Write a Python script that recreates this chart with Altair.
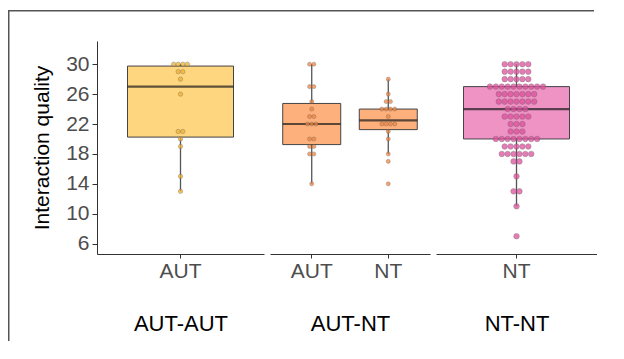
import altair as alt
import pandas as pd

# ---- data ----
aut_aut_AUT = [30, 30, 30, 30, 29, 29, 28, 26, 21, 21, 20, 19, 15, 13]
aut_nt_AUT = [30, 30, 27, 27, 25, 24, 23, 23, 22, 22, 22, 20, 20, 19, 19, 18, 18, 14]
aut_nt_NT = [28, 26, 25, 25, 24, 24, 24, 24, 23, 22, 22, 22, 22, 21, 20, 18, 17, 14]
nt_nt_NT = [30, 30, 30, 30, 30, 29, 29, 29, 29, 29, 28, 28, 28, 28, 28,
            27, 27, 27, 27, 27, 27, 27, 27, 27, 27,
            26, 26, 26, 26, 26, 26, 26, 25, 25, 25, 25, 25, 25, 25,
            24, 24, 24, 24, 23, 23, 23, 23, 23, 22, 22, 22, 21, 21, 21,
            20, 20, 20, 20, 20, 20, 20, 20, 19, 19, 19, 19, 19,
            18, 18, 18, 18, 18, 18, 17, 17, 15, 13, 13, 11, 7]

groups = ["AUT-AUT", "AUT-NT", "NT-NT"]
y_ticks = [6, 10, 14, 18, 22, 26, 30]
y_domain = [4.62, 33.1]

box_fills = ["#FED680", "#FDB07C", "#EF93C5"]
dot_fills = ["#F3B12C", "#F5843C", "#DF4F9D"]

FONT = "Liberation Sans"


def dot_frame(series, spread):
    # dot-plot stacking: dots sharing a value are spread side by side around the category
    rows = []
    for i, (cat, vals) in enumerate(series):
        counts = {}
        for v in vals:
            counts[v] = counts.get(v, 0) + 1
        seen = {}
        for v in vals:
            k = seen.get(v, 0)
            seen[v] = k + 1
            off = k - (counts[v] - 1) / 2
            rows.append({"cat": cat, "q": v, "pos": i + off * spread})
    return pd.DataFrame(rows)


def panel(series, title, width, box_size, dot_d, pad_outer, box_fill, dot_fill, first):
    cats = [c for c, _ in series]
    n = len(cats)
    bw = width / (n + 2 * pad_outer)
    df = dot_frame(series, dot_d / bw)
    xscale = alt.Scale(domain=cats, paddingInner=0, paddingOuter=pad_outer)
    xaxis = alt.Axis(title=title, labelAngle=0, labelFontSize=21, labelColor="#4d4d4d",
                     labelPadding=2, titleFontSize=22, titleColor="black",
                     titleFontWeight="normal", titlePadding=32, tickSize=4,
                     tickColor="#333", domainColor="#333", grid=False)
    if first:
        yaxis = alt.Axis(title="Interaction quality", values=y_ticks, labelFontSize=21,
                         labelColor="#4d4d4d", labelPadding=3, titleFontSize=21,
                         titleColor="black", titleFontWeight="normal", titlePadding=13,
                         tickSize=5, tickColor="#333", domainColor="#333", grid=False)
    else:
        yaxis = None
    ysc = alt.Scale(domain=y_domain, nice=False, zero=False)
    y = alt.Y("q:Q", scale=ysc, axis=yaxis)

    box = alt.Chart(df).mark_boxplot(
        extent=1.5, size=box_size, outliers=False, color=box_fill,
        box={"stroke": "#444", "strokeWidth": 1, "opacity": 1},
        median={"color": "#1a1a1a", "thickness": 2.2},
        rule={"color": "#555", "strokeWidth": 1.3},
    ).encode(x=alt.X("cat:N", scale=xscale, axis=xaxis), y=y)

    dots = alt.Chart(df).mark_circle(
        size=1.15 * 3.1416 * dot_d * dot_d / 4, color=dot_fill, opacity=0.75,
        stroke="#555", strokeWidth=0.6, strokeOpacity=0.7,
    ).encode(
        x=alt.X("pos:Q", axis=None,
                scale=alt.Scale(domain=[-0.5 - pad_outer, n - 0.5 + pad_outer], nice=False, zero=False)),
        y=y,
    )
    layers = [box, dots]
    if first:
        frame = pd.DataFrame({"k": [0]})
        top = alt.Chart(frame).mark_rect(color="#555", strokeWidth=0).encode(
            x=alt.value(-89), x2=alt.value(497), y=alt.value(-31), y2=alt.value(-29.5))
        left = alt.Chart(frame).mark_rect(color="#555", strokeWidth=0).encode(
            x=alt.value(-89), x2=alt.value(-87.5), y=alt.value(-31), y2=alt.value(300))
        layers += [top, left]
    return alt.layer(*layers).resolve_scale(x="independent").properties(width=width, height=213)


p1 = panel([("AUT", aut_aut_AUT)], groups[0], 167, 106, 4.6, 0, box_fills[0], dot_fills[0], True)
p2 = panel([("AUT", aut_nt_AUT), ("NT", aut_nt_NT)], groups[1], 160, 58, 4.3, 0.045,
           box_fills[1], dot_fills[1], False)
p3 = panel([("NT", nt_nt_NT)], groups[2], 161, 106, 5.9, 0, box_fills[2], dot_fills[2], False)

chart = alt.hconcat(p1, p2, p3, spacing=6, bounds="flush").properties(
    padding={"left": 0, "top": 2, "right": 0, "bottom": 0}
).configure(font=FONT).configure_view(strokeWidth=0)

chart.save("out.html", embed_options={"renderer": "svg", "actions": False})
